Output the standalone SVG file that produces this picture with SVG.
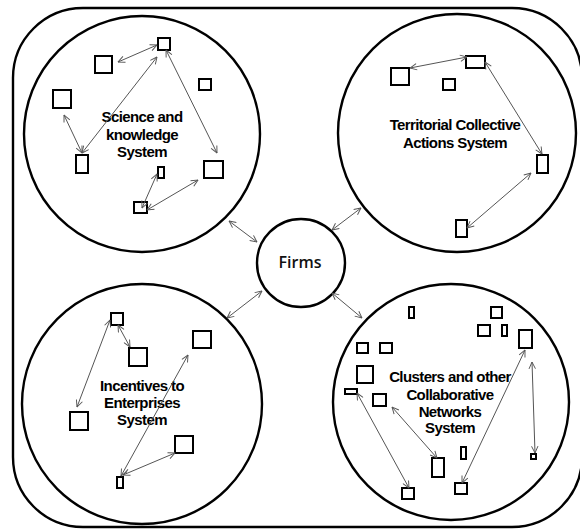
<svg xmlns="http://www.w3.org/2000/svg" width="580" height="529" viewBox="0 0 580 529">
<style>
.big{fill:none;stroke:#000;stroke-width:2.4}
.sq{fill:#fff;stroke:#000;stroke-width:2}
.lb{font-family:"Liberation Sans",Arial,sans-serif;font-weight:bold;font-size:15px;letter-spacing:-0.6px;text-anchor:middle;fill:#000}
.fm{font-family:"Open Sans","Noto Sans",sans-serif;font-size:16px;font-weight:600;text-anchor:middle;fill:#111}
.cn{stroke:#555;stroke-width:1;fill:none;marker-start:url(#ah);marker-end:url(#ah)}
</style>
<defs>
<marker id="ah" viewBox="0 0 10 10" refX="9.5" refY="5" markerWidth="8" markerHeight="8" markerUnits="userSpaceOnUse" orient="auto-start-reverse">
<path d="M1,1 L9.5,5 L1,9" fill="none" stroke="#555" stroke-width="1.2"/>
</marker>
</defs>
<rect x="13" y="8" width="569" height="519" rx="70" ry="70" class="big"/>

<g id="science">
<circle cx="142" cy="134" r="118" class="big"/>
<rect x="95" y="56" width="17" height="17" class="sq"/>
<rect x="158" y="38" width="12" height="12" class="sq"/>
<rect x="199" y="79" width="12" height="11" class="sq"/>
<rect x="53" y="90" width="18" height="18" class="sq"/>
<rect x="76" y="155" width="12" height="18" class="sq"/>
<rect x="158" y="167" width="6" height="11" class="sq"/>
<rect x="204" y="161" width="19" height="17" class="sq"/>
<rect x="134" y="202" width="13" height="11" class="sq"/>
<text class="lb" x="142" y="122">Science and</text>
<text class="lb" x="142" y="140">knowledge</text>
<text class="lb" x="142" y="157">System</text>
</g>

<g id="territorial">
<circle cx="457" cy="133" r="119" class="big"/>
<rect x="391" y="68" width="18" height="17" class="sq"/>
<rect x="466" y="56" width="19" height="12" class="sq"/>
<rect x="443" y="79" width="12" height="11" class="sq"/>
<rect x="537" y="155" width="11" height="18" class="sq"/>
<rect x="456" y="220" width="11" height="17" class="sq"/>
<text class="lb" x="455" y="130">Territorial Collective</text>
<text class="lb" x="455" y="148">Actions System</text>
</g>

<g id="incentives">
<circle cx="142" cy="404" r="120" class="big"/>
<rect x="111" y="313" width="12" height="12" class="sq"/>
<rect x="129" y="348" width="18" height="18" class="sq"/>
<rect x="193" y="331" width="18" height="17" class="sq"/>
<rect x="70" y="412" width="18" height="18" class="sq"/>
<rect x="175" y="436" width="18" height="17" class="sq"/>
<rect x="117" y="477" width="6" height="11" class="sq"/>
<text class="lb" x="142" y="391">Incentives to</text>
<text class="lb" x="142" y="408">Enterprises</text>
<text class="lb" x="142" y="425">System</text>
</g>

<g id="clusters">
<circle cx="451" cy="402" r="118" class="big"/>
<rect x="409" y="307" width="5" height="11" class="sq"/>
<rect x="491" y="307" width="11" height="11" class="sq"/>
<rect x="478" y="325" width="12" height="11" class="sq"/>
<rect x="502" y="325" width="5" height="11" class="sq"/>
<rect x="519" y="330" width="13" height="18" class="sq"/>
<rect x="357" y="343" width="11" height="10" class="sq"/>
<rect x="380" y="343" width="12" height="10" class="sq"/>
<rect x="357" y="366" width="16" height="17" class="sq"/>
<rect x="345" y="389" width="12" height="5" class="sq"/>
<rect x="373" y="394" width="13" height="12" class="sq"/>
<rect x="432" y="458" width="12" height="19" class="sq"/>
<rect x="461" y="447" width="5" height="12" class="sq"/>
<rect x="531" y="454" width="5" height="5" class="sq"/>
<rect x="402" y="488" width="12" height="11" class="sq"/>
<rect x="455" y="483" width="12" height="11" class="sq"/>
<text class="lb" x="450" y="382">Clusters and other</text>
<text class="lb" x="450" y="400">Collaborative</text>
<text class="lb" x="450" y="417">Networks</text>
<text class="lb" x="450" y="433">System</text>
</g>

<g id="firms">
<circle cx="301" cy="263" r="44" class="big"/>
<text class="fm" x="300" y="268">Firms</text>
</g>

<g id="connectors">
<line class="cn" x1="118" y1="62" x2="157" y2="45"/>
<line class="cn" x1="82" y1="153" x2="157" y2="57"/>
<line class="cn" x1="64" y1="115" x2="82" y2="153"/>
<line class="cn" x1="166" y1="50" x2="217" y2="153"/>
<line class="cn" x1="142" y1="208" x2="157" y2="174"/>
<line class="cn" x1="147" y1="210" x2="198" y2="180"/>
<line class="cn" x1="229" y1="221" x2="257" y2="242"/>

<line class="cn" x1="410" y1="68" x2="467" y2="57"/>
<line class="cn" x1="485" y1="62" x2="542" y2="154"/>
<line class="cn" x1="467" y1="228" x2="531" y2="173"/>
<line class="cn" x1="332" y1="230" x2="361" y2="208"/>

<line class="cn" x1="110" y1="320" x2="77" y2="407"/>
<line class="cn" x1="118" y1="325" x2="130" y2="347"/>
<line class="cn" x1="188" y1="355" x2="121" y2="476"/>
<line class="cn" x1="123" y1="475" x2="175" y2="453"/>
<line class="cn" x1="227" y1="318" x2="262" y2="291"/>

<line class="cn" x1="357" y1="393" x2="409" y2="488"/>
<line class="cn" x1="392" y1="407" x2="437" y2="458"/>
<line class="cn" x1="462" y1="483" x2="525" y2="350"/>
<line class="cn" x1="532" y1="362" x2="535" y2="453"/>
<line class="cn" x1="332" y1="293" x2="362" y2="318"/>
</g>
</svg>
